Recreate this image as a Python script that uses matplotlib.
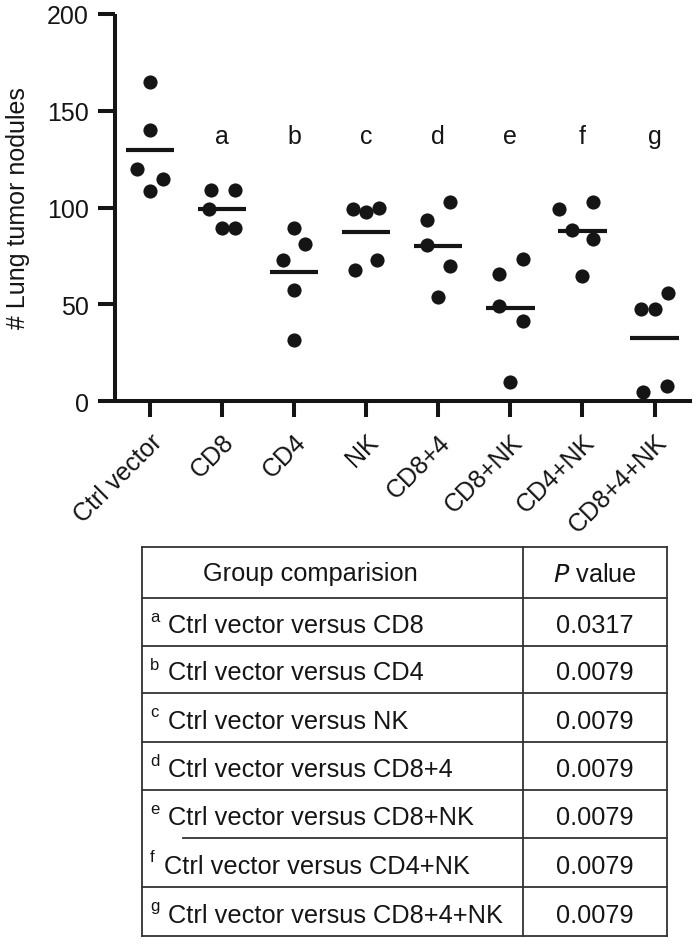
import matplotlib
matplotlib.use("Agg")
import matplotlib.pyplot as plt
import matplotlib.transforms as mtransforms
import numpy as np

plt.rcParams['font.family'] = ['Liberation Sans', 'DejaVu Sans']

# Data
groups = ["Ctrl vector", "CD8", "CD4", "NK", "CD8+4", "CD8+NK", "CD4+NK", "CD8+4+NK"]
sig_letters = ["", "a", "b", "c", "d", "e", "f", "g"]
nodules = [
    [165, 140, 120, 114.5, 108.5],
    [109, 109, 99, 89.5, 89.5],
    [89.5, 81.3, 73, 57.5, 31.6],
    [99.3, 97.6, 99.8, 67.5, 72.7],
    [102.8, 93.4, 80.8, 69.6, 53.7],
    [73.6, 65.8, 48.9, 41.6, 9.7],
    [102.8, 99.3, 88.6, 83.8, 64.8],
    [55.8, 47.7, 47.7, 7.8, 4.8],
]
# horizontal scatter of the dots inside each column (category units)
jitter = [
    [0, 0, -0.185, 0.185, 0],
    [-0.16, 0.185, -0.175, 0, 0.185],
    [0, 0.15, -0.15, 0, 0],
    [-0.185, 0, 0.175, -0.16, 0.15],
    [0.16, -0.16, -0.16, 0.16, 0],
    [0.17, -0.16, -0.16, 0.17, 0],
    [0.15, -0.32, -0.15, 0.15, 0],
    [0.185, -0.185, 0, 0.17, -0.16],
]
comparisons = ["Ctrl vector versus CD8", "Ctrl vector versus CD4", "Ctrl vector versus NK",
               "Ctrl vector versus CD8+4", "Ctrl vector versus CD8+NK",
               "Ctrl vector versus CD4+NK", "Ctrl vector versus CD8+4+NK"]
p_values = ["0.0317", "0.0079", "0.0079", "0.0079", "0.0079", "0.0079", "0.0079"]

W, H = 700, 945
fig = plt.figure(figsize=(7, 9.45), dpi=100)
ink = '#151515'

# Dot plot
ax = fig.add_axes([115 / W, 1 - 402 / H, (692 - 115) / W, (402 - 15) / H])
for i, vals in enumerate(nodules):
    xs = i + np.array(jitter[i])
    ax.plot(xs, vals, 'o', color=ink, markersize=10.2, markeredgewidth=0, zorder=3)
    ax.hlines(np.mean(vals), i - 0.335, i + 0.335, color=ink, linewidth=3, zorder=4)
    if sig_letters[i]:
        ax.text(i, 137, sig_letters[i], ha='center', va='center', fontsize=18, color=ink)

ax.set_xlim(-0.485, 7.52)
ax.set_ylim(0, 200)
ax.set_yticks([0, 50, 100, 150, 200])
ax.set_xticks(range(len(groups)))
ax.set_xticklabels(groups, rotation=45, ha='right', va='top', rotation_mode='anchor', fontsize=18, color=ink)
# nudge rotated labels a little to the left
shift = mtransforms.ScaledTranslation(-0.055, 0.03, fig.dpi_scale_trans)
for lab in ax.get_xticklabels():
    lab.set_transform(lab.get_transform() + shift)
ax.tick_params(axis='y', length=12, width=2.9, labelsize=18, pad=7, colors=ink)
ax.tick_params(axis='x', length=11.5, width=2.9, pad=9, colors=ink)
for s in ['top', 'right']:
    ax.spines[s].set_visible(False)
for s in ['left', 'bottom']:
    ax.spines[s].set_linewidth(2.9)
    ax.spines[s].set_color(ink)
    ax.spines[s].set_capstyle('butt')
ax.set_ylabel('# Lung tumor nodules', fontsize=18, color=ink, labelpad=12)

# Table (drawn in pixel coordinates)
tb = fig.add_axes([0, 0, 1, 1])
tb.set_xlim(0, W)
tb.set_ylim(H, 0)
tb.axis('off')
line_c = '#333333'
lw = 1.3
left, mid, right = 142, 523, 667
rows = [548, 599, 647, 694, 743, 791, 839, 888, 937]
tb.plot([left, left], [rows[0], rows[-1]], color=line_c, lw=lw)
tb.plot([mid, mid], [rows[0], rows[-1]], color=line_c, lw=lw)
tb.plot([right, right], [rows[0], rows[-1]], color=line_c, lw=lw)
for k, y in enumerate(rows):
    x0 = 183 if k == 6 else left
    tb.plot([x0, right], [y, y], color=line_c, lw=lw)

tb.text((left + mid) / 2 - 22, (rows[0] + rows[1]) / 2 + 1, 'Group comparision', ha='center', va='center',
        fontsize=18.3, color=ink)
tb.text((mid + right) / 2, (rows[0] + rows[1]) / 2 + 1, r'$\it{P}$' + ' value', ha='center', va='center',
        fontsize=18.3, color=ink)
for k in range(len(comparisons)):
    top, bot = rows[k + 1], rows[k + 2]
    tb.text(150, top + 11, sig_letters[k + 1], ha='left', va='top', fontsize=12, color=ink)
    tb.text(164 if k == 5 else 168, bot - 14, comparisons[k], ha='left', va='baseline', fontsize=18.3, color=ink)
    tb.text((mid + right) / 2, bot - 14, p_values[k], ha='center', va='baseline', fontsize=18.3, color=ink)

fig.savefig('out.png', dpi=100)
